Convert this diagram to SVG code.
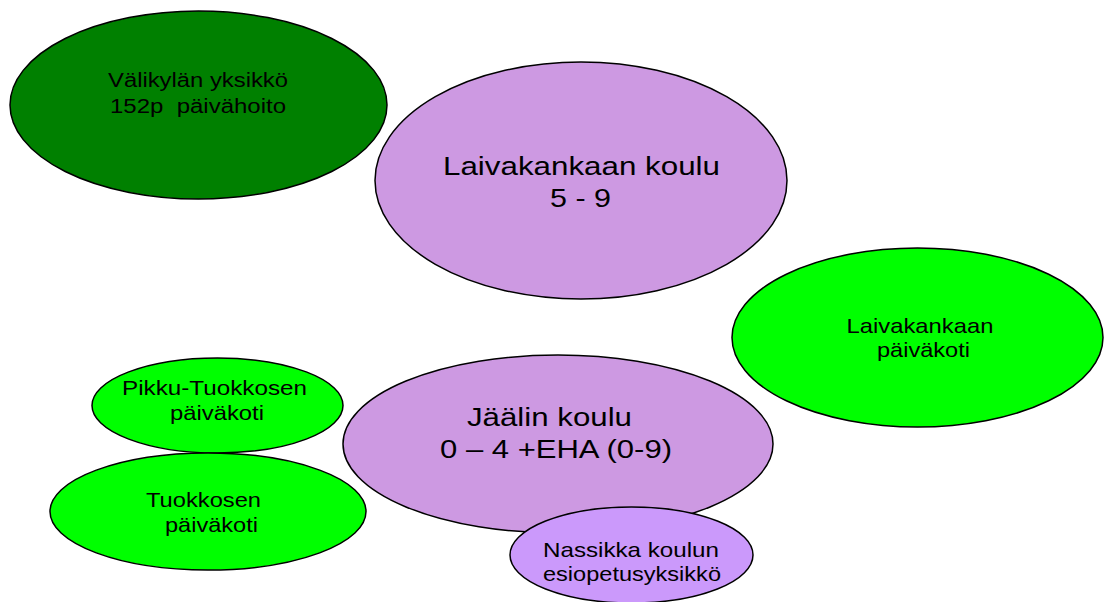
<svg xmlns="http://www.w3.org/2000/svg" width="1104" height="602" viewBox="0 0 1104 602">
<style>
  .n { stroke: #000; stroke-width: 1.5; }
  .dg { fill: #008000; }
  .lg { fill: #00FF00; }
  .pu { fill: #CD99E2; }
  .lp { fill: #CB99FB; }
  text { font-family: "Liberation Sans", Arial, sans-serif; fill: #000; text-anchor: middle; }
  .pre { white-space: pre; }
  .s20 { font-size: 20px; }
  .s21 { font-size: 21px; }
  .s25 { font-size: 25px; }
</style>
<rect width="1104" height="602" fill="#fff"/>
<g id="valikyla">
  <ellipse class="n dg" cx="198.5" cy="105" rx="188.5" ry="94"/>
  <text class="s20" x="198" y="87" textLength="180" lengthAdjust="spacingAndGlyphs">Välikylän yksikkö</text>
  <text class="s20 pre" xml:space="preserve" x="198" y="113" textLength="176" lengthAdjust="spacingAndGlyphs">152p  päivähoito</text>
</g>
<g id="laivakankaan-koulu">
  <ellipse class="n pu" cx="581" cy="180.5" rx="206" ry="118.5"/>
  <text class="s25" x="581.5" y="175" textLength="277" lengthAdjust="spacingAndGlyphs">Laivakankaan koulu</text>
  <text class="s25" x="580.5" y="207" textLength="61" lengthAdjust="spacingAndGlyphs">5 - 9</text>
</g>
<g id="laivakankaan-paivakoti">
  <ellipse class="n lg" cx="917.5" cy="337.5" rx="185.5" ry="89.5"/>
  <text class="s21" x="920" y="333" textLength="147" lengthAdjust="spacingAndGlyphs">Laivakankaan</text>
  <text class="s21" x="923.5" y="357" textLength="93" lengthAdjust="spacingAndGlyphs">päiväkoti</text>
</g>
<g id="pikku-tuokkonen">
  <ellipse class="n lg" cx="217.5" cy="405.5" rx="125.5" ry="47.5"/>
  <text class="s21" x="214.5" y="395" textLength="185" lengthAdjust="spacingAndGlyphs">Pikku-Tuokkosen</text>
  <text class="s21" x="217" y="420" textLength="94" lengthAdjust="spacingAndGlyphs">päiväkoti</text>
</g>
<g id="tuokkonen">
  <ellipse class="n lg" cx="208" cy="511.5" rx="158" ry="58.5"/>
  <text class="s21" x="203.5" y="507" textLength="115" lengthAdjust="spacingAndGlyphs">Tuokkosen</text>
  <text class="s21" x="211.5" y="532" textLength="93" lengthAdjust="spacingAndGlyphs">päiväkoti</text>
</g>
<g id="jaalin-koulu">
  <ellipse class="n pu" cx="558" cy="444" rx="215" ry="89"/>
  <text class="s25" x="549.5" y="426" textLength="165" lengthAdjust="spacingAndGlyphs">Jäälin koulu</text>
  <text class="s25" x="556" y="458" textLength="232" lengthAdjust="spacingAndGlyphs">0 – 4 +EHA (0-9)</text>
</g>
<g id="nassikka">
  <ellipse class="n lp" cx="631.5" cy="555" rx="121.5" ry="48"/>
  <text class="s21" x="631" y="557" textLength="176" lengthAdjust="spacingAndGlyphs">Nassikka koulun</text>
  <text class="s21" x="632" y="581" textLength="178" lengthAdjust="spacingAndGlyphs">esiopetusyksikkö</text>
</g>
<g id="connectors"></g>
</svg>
